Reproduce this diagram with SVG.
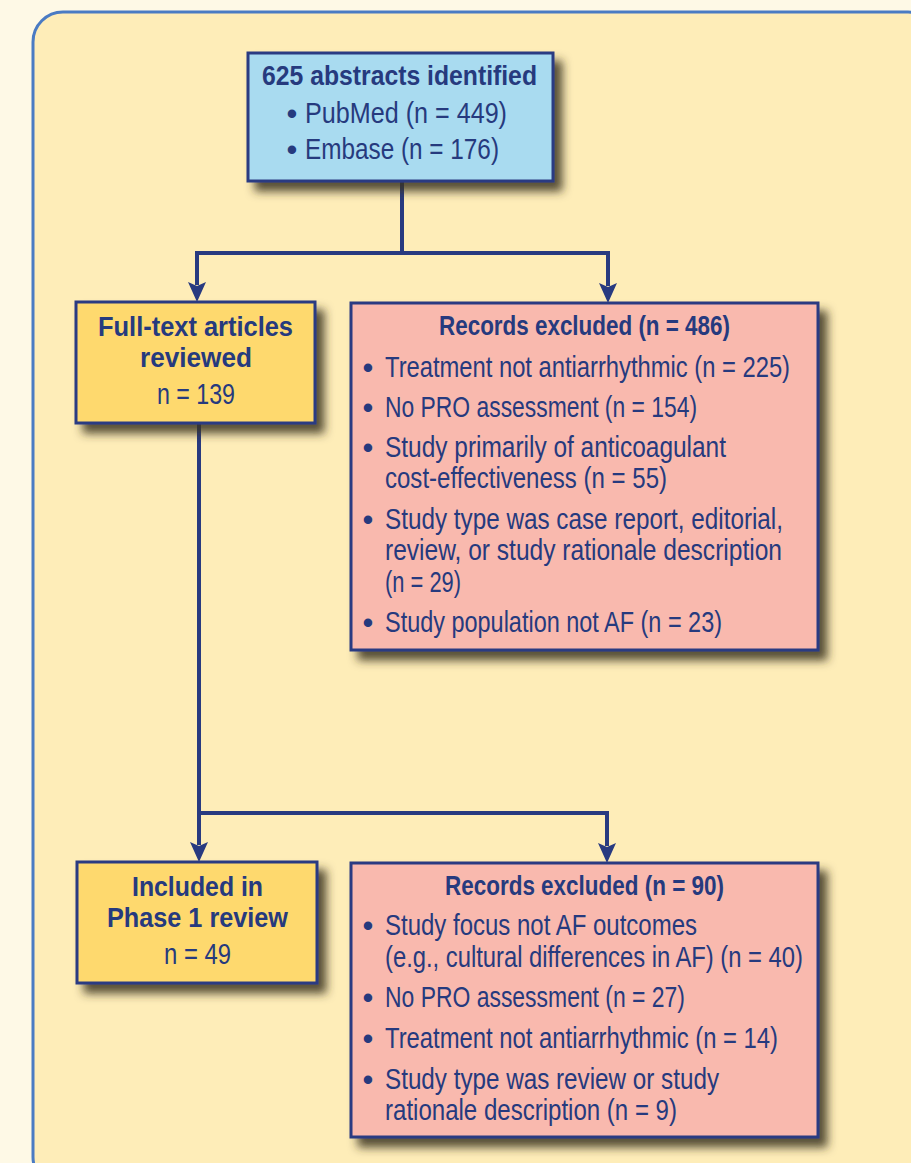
<svg xmlns="http://www.w3.org/2000/svg" width="911" height="1163" viewBox="0 0 911 1163">
<defs>
<filter id="sh" x="-20%" y="-20%" width="140%" height="140%">
<feDropShadow dx="8" dy="9" stdDeviation="5" flood-color="#3b3020" flood-opacity="0.85"/>
</filter>
<marker id="arr" viewBox="0 -10 20 20" refX="3" refY="0" markerWidth="20" markerHeight="20" markerUnits="userSpaceOnUse" orient="auto">
<path d="M0,-9 L20,0 L0,9 L4,0 z" fill="#283A80"/>
</marker>
<style>
.box{stroke:#2A3A82;stroke-width:3;filter:url(#sh)}
.blue{fill:#A9DBF0}
.yel{fill:#FED96E}
.pink{fill:#F9B9AE}
text{font-family:"Liberation Sans",Arial,sans-serif;fill:#263A7E;font-size:29px}
.b{font-weight:bold;font-size:28px}
.c{text-anchor:middle;font-size:31px}
.con{fill:none;stroke:#283A80;stroke-width:4}
</style>
</defs>
<rect x="0" y="0" width="911" height="1163" fill="#FEF9E6"/>
<rect x="33" y="12" width="905" height="1175" rx="30" fill="#FEEDB8" stroke="#4A7BC3" stroke-width="3"/>

<g id="connectors">
<path class="con" d="M402,182 V253"/>
<path class="con" d="M402,253 H197 V285" marker-end="url(#arr)"/>
<path class="con" d="M402,253 H608 V286" marker-end="url(#arr)"/>
<path class="con" d="M199,423 V845" marker-end="url(#arr)"/>
<path class="con" d="M199,813 H607 V846" marker-end="url(#arr)"/>
</g>

<g id="abstracts">
<rect class="box blue" x="248" y="53" width="305" height="128"/>
<text class="b" x="262" y="85" textLength="275" lengthAdjust="spacingAndGlyphs">625 abstracts identified</text>
<text class="c" x="292" y="124">•</text>
<text x="305" y="123" textLength="202" lengthAdjust="spacingAndGlyphs">PubMed (n = 449)</text>
<text class="c" x="292" y="160">•</text>
<text x="305" y="159" textLength="194" lengthAdjust="spacingAndGlyphs">Embase (n = 176)</text>
</g>

<g id="fulltext">
<rect class="box yel" x="76" y="302" width="239" height="121"/>
<text class="b" x="98" y="336" textLength="195" lengthAdjust="spacingAndGlyphs">Full-text articles</text>
<text class="b" x="140" y="367" textLength="112" lengthAdjust="spacingAndGlyphs">reviewed</text>
<text x="157" y="404" textLength="78" lengthAdjust="spacingAndGlyphs">n = 139</text>
</g>

<g id="excluded1">
<rect class="box pink" x="351" y="303" width="467" height="347"/>
<text class="b" x="439" y="335" textLength="291" lengthAdjust="spacingAndGlyphs">Records excluded (n = 486)</text>
<text class="c" x="368" y="378">•</text>
<text x="385" y="377" textLength="405" lengthAdjust="spacingAndGlyphs">Treatment not antiarrhythmic (n = 225)</text>
<text class="c" x="368" y="418">•</text>
<text x="385" y="417" textLength="312" lengthAdjust="spacingAndGlyphs">No PRO assessment (n = 154)</text>
<text class="c" x="368" y="458">•</text>
<text x="385" y="457" textLength="341" lengthAdjust="spacingAndGlyphs">Study primarily of anticoagulant</text>
<text x="385" y="488" textLength="282" lengthAdjust="spacingAndGlyphs">cost-effectiveness (n = 55)</text>
<text class="c" x="368" y="530">•</text>
<text x="385" y="529" textLength="398" lengthAdjust="spacingAndGlyphs">Study type was case report, editorial,</text>
<text x="385" y="560" textLength="397" lengthAdjust="spacingAndGlyphs">review, or study rationale description</text>
<text x="385" y="592" textLength="76" lengthAdjust="spacingAndGlyphs">(n = 29)</text>
<text class="c" x="368" y="633">•</text>
<text x="385" y="632" textLength="337" lengthAdjust="spacingAndGlyphs">Study population not AF (n = 23)</text>
</g>

<g id="included">
<rect class="box yel" x="77" y="862" width="240" height="121"/>
<text class="b" x="132" y="896" textLength="131" lengthAdjust="spacingAndGlyphs">Included in</text>
<text class="b" x="107" y="927" textLength="181" lengthAdjust="spacingAndGlyphs">Phase 1 review</text>
<text x="164" y="964" textLength="67" lengthAdjust="spacingAndGlyphs">n = 49</text>
</g>

<g id="excluded2">
<rect class="box pink" x="351" y="863" width="467" height="274"/>
<text class="b" x="445" y="895" textLength="279" lengthAdjust="spacingAndGlyphs">Records excluded (n = 90)</text>
<text class="c" x="368" y="936">•</text>
<text x="385" y="935" textLength="312" lengthAdjust="spacingAndGlyphs">Study focus not AF outcomes</text>
<text x="385" y="967" textLength="418" lengthAdjust="spacingAndGlyphs">(e.g., cultural differences in AF) (n = 40)</text>
<text class="c" x="368" y="1008">•</text>
<text x="385" y="1007" textLength="300" lengthAdjust="spacingAndGlyphs">No PRO assessment (n = 27)</text>
<text class="c" x="368" y="1049">•</text>
<text x="385" y="1048" textLength="393" lengthAdjust="spacingAndGlyphs">Treatment not antiarrhythmic (n = 14)</text>
<text class="c" x="368" y="1090">•</text>
<text x="385" y="1089" textLength="334" lengthAdjust="spacingAndGlyphs">Study type was review or study</text>
<text x="385" y="1120" textLength="292" lengthAdjust="spacingAndGlyphs">rationale description (n = 9)</text>
</g>
</svg>
